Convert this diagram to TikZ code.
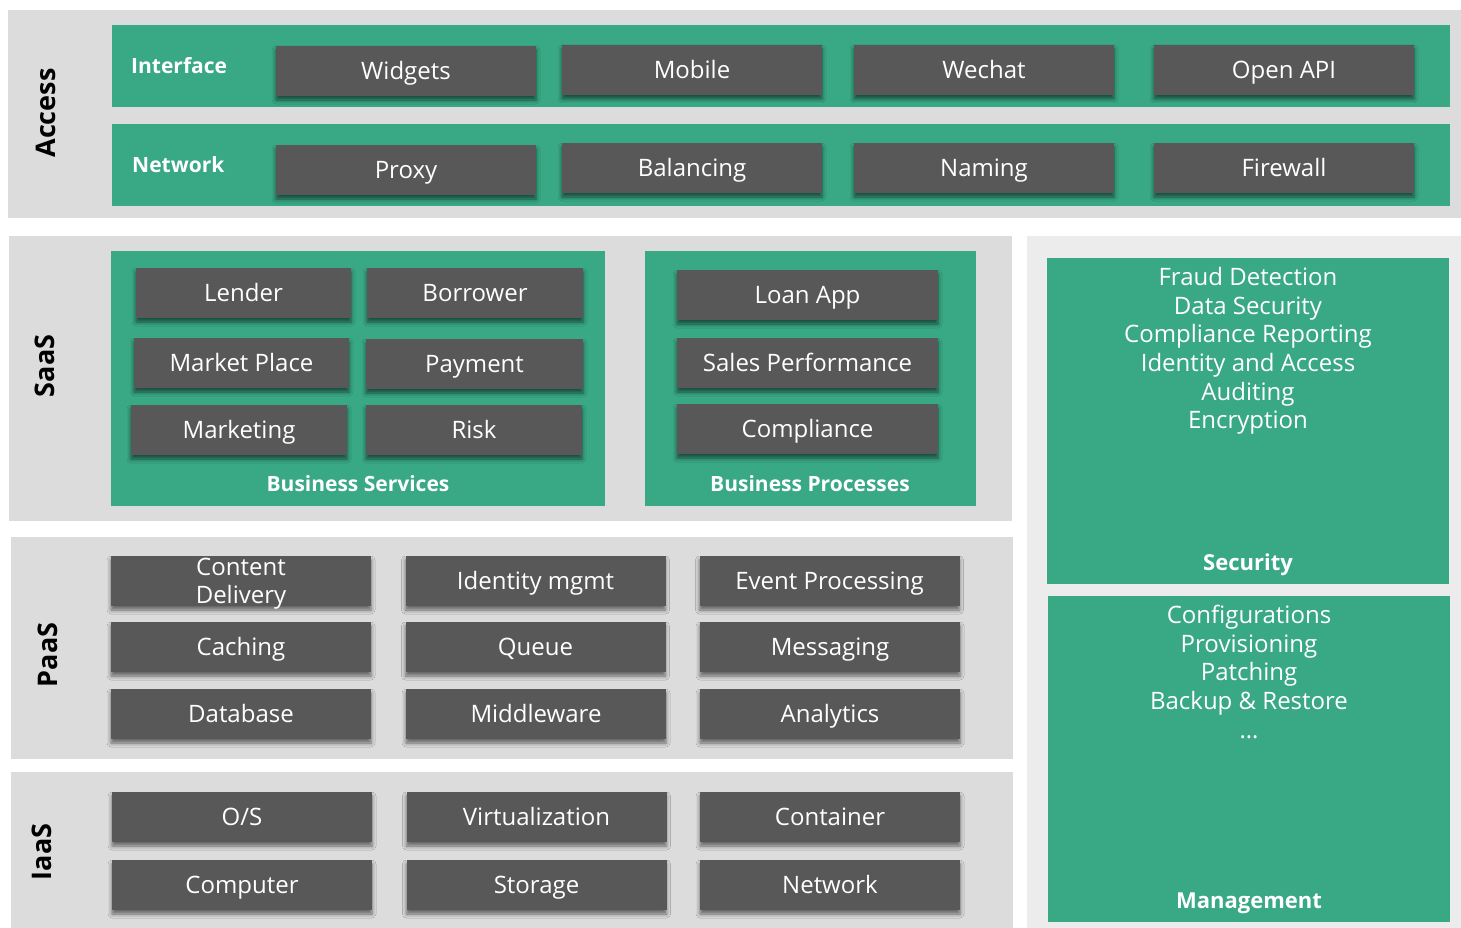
\documentclass[tikz,border=0pt]{standalone}
\usepackage{fontspec}
\setmainfont{Open Sans}
\usetikzlibrary{shadows.blur}
\definecolor{pgreen}{RGB}{57,168,132}
\definecolor{pbox}{RGB}{89,88,89}
\definecolor{pgray}{RGB}{220,220,220}
\definecolor{plight}{RGB}{236,236,236}
\tikzset{
  gbox/.style={fill=pbox, text=white, minimum width=260pt, minimum height=50pt,
    inner sep=0pt, outer sep=0pt, font=\fontsize{24}{28}\selectfont,
    text height=17pt, text depth=0pt,
    blur shadow={shadow xshift=0pt, shadow yshift=-4pt, shadow blur radius=4pt, shadow opacity=55}},
  gboxml/.style={fill=pbox, text=white, minimum width=260pt, minimum height=50pt,
    inner sep=0pt, outer sep=0pt, font=\fontsize{24}{28}\selectfont, align=center,
    blur shadow={shadow xshift=0pt, shadow yshift=-4pt, shadow blur radius=4pt, shadow opacity=55}},
  grouptitle/.style={text=white, inner sep=0pt, font=\bfseries\fontsize{21}{24}\selectfont,
    text height=15pt, text depth=0pt},
  sidetitle/.style={text=white, inner sep=0pt, font=\bfseries\fontsize{22}{26}\selectfont,
    text height=16pt, text depth=0pt},
  layertitle/.style={text=black, inner sep=0pt, rotate=90, font=\bfseries\fontsize{27}{30}\selectfont,
    text height=19pt, text depth=0pt},
  listtext/.style={text=white, inner sep=0pt, align=center, anchor=north,
    font=\fontsize{24}{28.7}\selectfont},
}
\begin{document}
\begin{tikzpicture}[x=1pt,y=-1pt]
\useasboundingbox (0,0) rectangle (1461,928);
\fill[white] (0,0) rectangle (1461,928);

% ---------- panels ----------
\fill[pgray] (8,10) rectangle (1461,218);
\fill[pgreen] (112,25) rectangle (1450,107);
\fill[pgreen] (112,124) rectangle (1450,206);

\fill[pgray] (9,236) rectangle (1012,521);
\fill[pgreen] (111,251) rectangle (605,506);
\fill[pgreen] (645,251) rectangle (976,506);

\fill[pgray] (11,537) rectangle (1013,759);
\fill[pgray] (11,772) rectangle (1013,928);

\fill[plight] (1027,236) rectangle (1461,928);
\fill[pgreen] (1047,258) rectangle (1449,584);
\fill[pgreen] (1048,596) rectangle (1450,922);

% ---------- layer titles ----------
\node[layertitle] (access) at (46,113) {Access};
\node[layertitle] (saas) at (45,366) {SaaS};
\node[layertitle] (paas) at (48,655) {PaaS};
\node[layertitle] (iaas) at (42,852) {IaaS};

% ---------- Access ----------
\node[grouptitle, anchor=west] (interface) at (131,66) {Interface};
\node[grouptitle, anchor=west] (network) at (132,165) {Network};

\node[gbox] (widgets) at (406,71) {Widgets};
\node[gbox] (mobile) at (692,70) {Mobile};
\node[gbox] (wechat) at (984,70) {Wechat};
\node[gbox] (openapi) at (1284,70) {Open API};

\node[gbox] (proxy) at (406,170) {Proxy};
\node[gbox] (balancing) at (692,168) {Balancing};
\node[gbox] (naming) at (984,168) {Naming};
\node[gbox] (firewall) at (1284,168) {Firewall};

% ---------- SaaS ----------
\node[gbox, minimum width=215pt] (lender) at (243.5,293) {Lender};
\node[gbox, minimum width=216pt] (borrower) at (475,293) {Borrower};
\node[gbox, minimum width=215pt] (market) at (241.5,363) {Market Place};
\node[gbox, minimum width=217pt] (payment) at (474.5,364) {Payment};
\node[gbox, minimum width=216pt] (marketing) at (239,430) {Marketing};
\node[gbox, minimum width=216pt] (risk) at (474,430) {Risk};
\node[grouptitle] (bservices) at (358,484) {Business Services};

\node[gbox, minimum width=261pt] (loanapp) at (807.5,295) {Loan App};
\node[gbox, minimum width=261pt] (sales) at (807.5,363) {Sales Performance};
\node[gbox, minimum width=261pt] (compliance) at (807.5,429) {Compliance};
\node[grouptitle] (bprocesses) at (810,484) {Business Processes};

% ---------- PaaS ----------
\node[gboxml] (content) at (241,581) {\raisebox{-9pt}[0pt][0pt]{\begin{tabular}{@{}c@{}}Content\\Delivery\end{tabular}}};
\node[gbox] (identity) at (535.5,581) {Identity mgmt};
\node[gbox] (event) at (829.5,581) {Event Processing};
\node[gbox] (caching) at (241,647) {Caching};
\node[gbox] (queue) at (535.5,647) {Queue};
\node[gbox] (messaging) at (830,647) {Messaging};
\node[gbox] (database) at (241,714) {Database};
\node[gbox] (middleware) at (536,714) {Middleware};
\node[gbox] (analytics) at (830,714) {Analytics};

% ---------- IaaS ----------
\node[gbox] (os) at (242,817) {O/S};
\node[gbox] (virt) at (536.5,817) {Virtualization};
\node[gbox] (container) at (830,817) {Container};
\node[gbox] (computer) at (242,885) {Computer};
\node[gbox] (storage) at (536.5,885) {Storage};
\node[gbox] (netw) at (830,885) {Network};

% ---------- Security / Management ----------
\node[listtext] (seclist) at (1248,267) {Fraud Detection\\Data Security\\Compliance Reporting\\Identity and Access\\Auditing\\Encryption};
\node[sidetitle] (security) at (1248,562) {Security};

\node[listtext] (mgmtlist) at (1249,605) {Configurations\\Provisioning\\Patching\\Backup \& Restore\\\dots};
\node[sidetitle] (management) at (1249,900) {Management};
\end{tikzpicture}
\end{document}
